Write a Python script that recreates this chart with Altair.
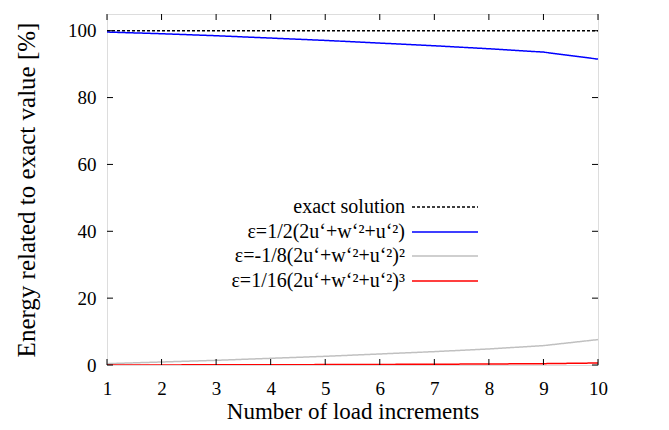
import altair as alt
import pandas as pd

# ---- data ----
increments = [1, 2, 3, 4, 5, 6, 7, 8, 9, 10]
exact = [100, 100, 100, 100, 100, 100, 100, 100, 100, 100]
eps1 = [99.6, 99.1, 98.5, 97.8, 97.1, 96.3, 95.5, 94.6, 93.6, 91.5]
eps2 = [0.4, 0.9, 1.4, 2.0, 2.6, 3.3, 4.0, 4.8, 5.8, 7.6]
eps3 = [0.01, 0.03, 0.05, 0.08, 0.12, 0.17, 0.23, 0.3, 0.4, 0.6]

series_names = [
    "exact solution",
    "ε=1/2(2u‘+w‘²+u‘²)",
    "ε=-1/8(2u‘+w‘²+u‘²)²",
    "ε=1/16(2u‘+w‘²+u‘²)³",
]
series_values = [exact, eps1, eps2, eps3]
series_colors = ["#000000", "#0000ff", "#c0c0c0", "#ff0000"]
series_dash = [[3, 2], [1, 0], [1, 0], [1, 0]]

x_ticks = [1, 2, 3, 4, 5, 6, 7, 8, 9, 10]
y_ticks = [0, 20, 40, 60, 80, 100]

FONT = "Liberation Serif"
W, H = 491, 351

rows = []
for name, vals in zip(series_names, series_values):
    for xv, yv in zip(increments, vals):
        rows.append({"n": xv, "v": yv, "s": name})
df = pd.DataFrame(rows)

xscale = alt.Scale(domain=[1, 10], nice=False, zero=False)
yscale = alt.Scale(domain=[0, 105], nice=False)

base_x_axis = alt.Axis(
    values=x_ticks, format="d", ticks=False, domain=False, grid=False,
    labelFont=FONT, labelFontSize=19, labelColor="black", labelPadding=14,
    title="Number of load increments", titleFont=FONT, titleFontSize=23,
    titleFontWeight="normal", titleColor="black",
    titleBaseline="alphabetic", titleY=53,
    labelFlush=False,
)
base_y_axis = alt.Axis(
    values=y_ticks, ticks=False, domain=False, grid=False,
    labelFont=FONT, labelFontSize=19, labelColor="black", labelPadding=11,
    title="Energy related to exact value [%]", titleFont=FONT, titleFontSize=25,
    titleFontWeight="normal", titleColor="black", titlePadding=28,
    labelFlush=False,
)

lines = []
for name, col, dash in zip(series_names, series_colors, series_dash):
    lines.append(
        alt.Chart(df[df.s == name]).mark_line(
            color=col, strokeWidth=1.5, strokeDash=dash, clip=True
        ).encode(
            x=alt.X("n:Q", scale=xscale, axis=base_x_axis),
            y=alt.Y("v:Q", scale=yscale, axis=base_y_axis),
        )
    )

# inward ticks on all four sides
xt = pd.DataFrame({"n": x_ticks})
yt = pd.DataFrame({"v": y_ticks})
tick_layers = [
    alt.Chart(xt).mark_rule(color="black", strokeWidth=1).encode(
        x=alt.X("n:Q", scale=xscale), y=alt.value(H), y2=alt.value(H - 6)),
    alt.Chart(xt).mark_rule(color="black", strokeWidth=1).encode(
        x=alt.X("n:Q", scale=xscale), y=alt.value(0), y2=alt.value(6)),
    alt.Chart(yt).mark_rule(color="black", strokeWidth=1).encode(
        y=alt.Y("v:Q", scale=yscale), x=alt.value(0), x2=alt.value(6)),
    alt.Chart(yt).mark_rule(color="black", strokeWidth=1).encode(
        y=alt.Y("v:Q", scale=yscale), x=alt.value(W), x2=alt.value(W - 6)),
]

# legend drawn inside the plot (labels left of samples, gnuplot style)
legend_layers = []
legend_y = [193, 218, 242, 267]
for name, col, dash, ly in zip(series_names, series_colors, series_dash, legend_y):
    legend_layers.append(
        alt.Chart(pd.DataFrame({"t": [name]})).mark_text(
            align="right", baseline="middle", font=FONT, fontSize=20, color="black"
        ).encode(text="t:N", x=alt.value(298), y=alt.value(ly))
    )
    legend_layers.append(
        alt.Chart(pd.DataFrame({"t": [name]})).mark_rule(
            color=col, strokeWidth=1.5, strokeDash=dash
        ).encode(x=alt.value(305), x2=alt.value(371), y=alt.value(ly))
    )

chart = alt.layer(*lines, *tick_layers, *legend_layers).properties(
    width=W, height=H,
    padding={"left": 99, "top": 6, "right": 63, "bottom": 57},
    autosize=alt.AutoSizeParams(type="none"),
).configure_view(
    stroke="black", strokeWidth=1.2
).configure(background="white")

chart.save("out.html", embed_options={"renderer": "svg", "actions": False})
